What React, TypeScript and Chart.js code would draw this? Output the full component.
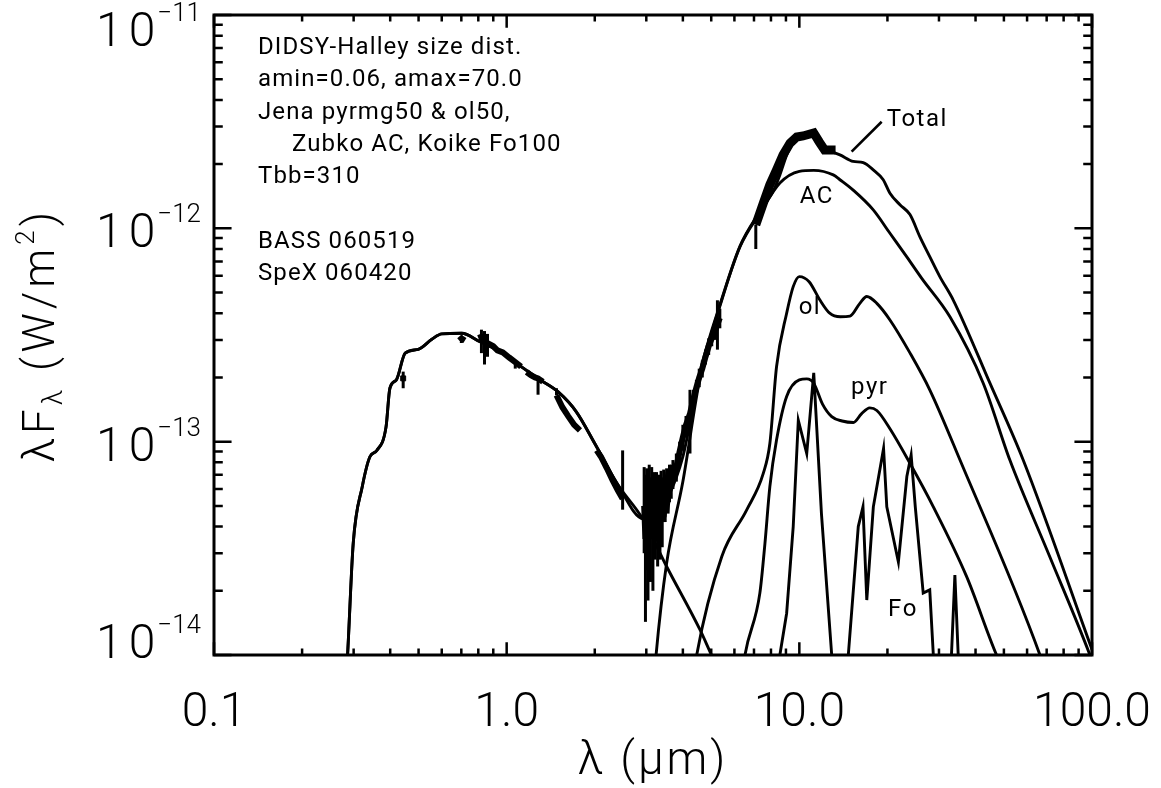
import React, { useEffect, useRef } from 'react';
import { Chart, registerables } from 'chart.js';

Chart.register(...registerables);

// ---------------- axes ----------------
const xMin = 0.1;
const xMax = 100;
const yMin = 1e-14;
const yMax = 1e-11;
const xDecades = [0.1, 1, 10, 100];
const xDecadeLabels = ['0.1', '1.0', '10.0', '100.0'];
const yDecades = [1e-14, 1e-13, 1e-12, 1e-11];
const yDecadeExponents = ['\u221214', '\u221213', '\u221212', '\u221211'];
const minorMultipliers = [2, 3, 4, 5, 6, 7, 8, 9];

// ---------------- model curves (λ in µm, λFλ in W/m²) ----------------
const stellarLam = [0.283, 0.286, 0.299, 0.321, 0.341, 0.36, 0.387, 0.399, 0.42, 0.45, 0.499, 0.555, 0.6, 0.702, 0.811, 0.974, 1.14, 1.3, 1.5, 1.73, 2.0, 2.38, 2.93, 3.52, 4.58, 5.01, 5.3];
const stellarFlux = [8e-15, 1e-14, 3.34e-14, 6.15e-14, 8.5e-14, 9.1e-14, 1.17e-13, 1.78e-13, 1.95e-13, 2.6e-13, 2.71e-13, 3.02e-13, 3.2e-13, 3.22e-13, 2.94e-13, 2.6e-13, 2.21e-13, 1.95e-13, 1.71e-13, 1.38e-13, 9.8e-14, 6.38e-14, 4.3e-14, 2.6e-14, 1.31e-14, 1e-14, 8.5e-15];

const totalLam = [0.283, 0.286, 0.299, 0.321, 0.341, 0.36, 0.387, 0.399, 0.42, 0.45, 0.499, 0.555, 0.6, 0.702, 0.811, 0.974, 1.14, 1.3, 1.5, 1.73, 2.0, 2.38, 2.93, 3.24, 3.52, 4.0, 4.58, 5.43, 6.27, 7.33, 8.15, 8.58, 9.05, 9.53, 10.0, 10.5, 11.2, 11.7, 12.2, 13.06, 13.76, 15.28, 16.53, 17.89, 19.35, 20.4, 22.07, 23.88, 25.8, 27.9, 30.2, 33.6, 44.8, 58.2, 100];
const totalFlux = [8e-15, 1e-14, 3.34e-14, 6.15e-14, 8.5e-14, 9.1e-14, 1.17e-13, 1.78e-13, 1.95e-13, 2.6e-13, 2.71e-13, 3.02e-13, 3.2e-13, 3.22e-13, 2.94e-13, 2.6e-13, 2.21e-13, 1.95e-13, 1.71e-13, 1.38e-13, 9.8e-14, 6.4e-14, 4.35e-14, 4.5e-14, 5.3e-14, 8.5e-14, 2.13e-13, 4.65e-13, 8.25e-13, 1.2e-12, 1.5e-12, 1.78e-12, 2.2e-12, 2.55e-12, 2.68e-12, 2.72e-12, 2.78e-12, 2.55e-12, 2.35e-12, 2.27e-12, 2.21e-12, 2.06e-12, 2.03e-12, 1.88e-12, 1.69e-12, 1.46e-12, 1.29e-12, 1.16e-12, 9.15e-13, 7.37e-13, 5.94e-13, 4.6e-13, 1.88e-13, 8.2e-14, 1.06e-14];

const acLam = [3.15, 3.24, 3.52, 4.0, 4.58, 5.43, 6.27, 7.33, 8.58, 10.0, 11.2, 13.06, 13.76, 15.28, 17.89, 20.4, 23.26, 26.2, 32.7, 42.5, 52.4, 71.8, 98.4, 100];
const acFlux = [6e-15, 1e-14, 2.69e-14, 6.5e-14, 2.0e-13, 4.6e-13, 8.2e-13, 1.18e-12, 1.63e-12, 1.85e-12, 1.87e-12, 1.78e-12, 1.69e-12, 1.51e-12, 1.22e-12, 9.48e-13, 7.37e-13, 5.83e-13, 3.85e-13, 1.88e-13, 8.2e-14, 2.88e-14, 1e-14, 9.4e-15];

const olLam = [4.3, 4.46, 5.43, 6.61, 7.53, 7.93, 8.36, 9.05, 9.53, 10.0, 10.8, 11.76, 12.7, 13.8, 14.9, 16.1, 17.0, 18.4, 20.4, 23.9, 27.9, 35.4, 66.4, 70];
const olFlux = [7e-15, 1e-14, 2.89e-14, 4.79e-14, 7.1e-14, 9.8e-14, 2.25e-13, 4.0e-13, 5.33e-13, 5.94e-13, 5.62e-13, 4.61e-13, 4.0e-13, 3.85e-13, 3.88e-13, 4.45e-13, 4.79e-13, 4.45e-13, 3.72e-13, 2.6e-13, 1.75e-13, 8.2e-14, 1e-14, 8e-15];

const pyrLam = [6.3, 6.52, 7.33, 7.63, 7.93, 8.36, 9.05, 10.0, 10.6, 11.2, 12.0, 12.9, 14.0, 15.3, 16.3, 17.4, 18.4, 20.4, 23.9, 28.7, 37.3, 47.2, 50];
const pyrFlux = [7e-15, 1e-14, 1.95e-14, 3.34e-14, 6.15e-14, 1.02e-13, 1.63e-13, 1.95e-13, 1.97e-13, 1.88e-13, 1.5e-13, 1.31e-13, 1.25e-13, 1.23e-13, 1.35e-13, 1.44e-13, 1.4e-13, 1.15e-13, 7.9e-14, 4.95e-14, 2.33e-14, 1e-14, 8.5e-15];

const foLam = [8.4, 8.58, 9.05, 9.53, 9.92, 10.6, 11.2, 11.9, 12.9, 13.3, 14.3, 14.7, 15.9, 16.5, 17.0, 17.9, 19.4, 19.9, 21.8, 23.3, 24.1, 24.9, 26.5, 27.9, 28.7, 29.5, 32.5, 33.1, 34.0, 34.9, 35.5];
const foFlux = [5e-15, 1e-14, 1.57e-14, 4.0e-14, 1.26e-13, 8.8e-14, 2.1e-13, 4.6e-14, 1e-14, 5e-15, 5e-15, 1e-14, 4.0e-14, 4.95e-14, 1.81e-14, 4.95e-14, 9.3e-14, 4.95e-14, 2.73e-14, 6.86e-14, 8.66e-14, 4.95e-14, 1.95e-14, 2.02e-14, 1e-14, 5e-15, 5e-15, 1e-14, 2.37e-14, 1e-14, 5e-15];

// ---------------- observations ----------------
// photometric point
const photLam = [0.443];
const photFlux = [1.98e-13];
const photLo = [1.78e-13];
const photHi = [2.13e-13];

// SpeX / near-IR spectrum (null = gap between segments)
const specLam = [0.69, 0.7, 0.72, 0.75, 0.8, 0.82, 0.84, 0.86, 0.88, 0.9, 0.93, 0.97, 1.02, 1.07, 1.12, 1.145, 1.17, 1.21, 1.25, 1.28, 1.33, 1.4, 1.48, 1.55, 1.62, 1.7, 1.78, 1.9, 2.03, 2.1, 2.2, 2.3, 2.4, 2.49, 2.7,
  2.95, 2.98, 3.01, 3.04, 3.07, 3.1, 3.13, 3.16, 3.19, 3.22, 3.25, 3.28, 3.31, 3.34, 3.37, 3.4, 3.44, 3.48, 3.52, 3.56, 3.6, 3.65, 3.7, 3.8, 3.9, 4.0, 4.1, 4.23, 4.35, 4.45, 4.55, 4.66, 4.78, 4.9, 5.02, 5.15, 5.25, 5.35];
const specFlux = [3.12e-13, 3.05e-13, 2.98e-13, null, 3.06e-13, 3.1e-13, 3.0e-13, 2.9e-13, 2.85e-13, 2.8e-13, 2.68e-13, 2.62e-13, 2.48e-13, 2.36e-13, 2.25e-13, null, 2.12e-13, 2.05e-13, 2.0e-13, 1.98e-13, 1.91e-13, null, 1.65e-13, 1.45e-13, 1.32e-13, 1.2e-13, 1.13e-13, null, 9.1e-14, 8.5e-14, 7.5e-14, 6.6e-14, 5.9e-14, 5.4e-14, null,
  5.0e-14, 3.5e-14, 4.5e-14, 3.2e-14, 5.0e-14, 4.0e-14, 5.5e-14, 3.6e-14, 4.8e-14, 4.0e-14, 5.2e-14, 4.2e-14, 5.0e-14, 4.4e-14, 5.4e-14, 4.6e-14, 5.5e-14, 5.2e-14, 6.0e-14, 5.6e-14, 6.4e-14, 6.5e-14, 7.0e-14, 7.6e-14, 9.0e-14, 1.05e-13, 1.2e-13, 1.35e-13, 1.6e-13, 1.8e-13, 2.0e-13, 2.2e-13, 2.5e-13, 2.8e-13, 3.05e-13, 3.3e-13, 3.55e-13, 3.8e-13];
const specLo = [null, 2.9e-13, null, null, null, 2.6e-13, 2.3e-13, 2.5e-13, null, null, null, null, null, 2.2e-13, null, null, null, null, null, 1.66e-13, null, null, null, null, null, null, null, null, null, null, null, null, null, 4.8e-14, null,
  3.0e-14, 1.43e-14, 2.5e-14, 1.8e-14, 3.0e-14, 2.2e-14, 3.5e-14, 2.0e-14, 3.0e-14, 2.8e-14, 3.4e-14, 2.6e-14, 3.2e-14, 2.8e-14, 3.8e-14, 3.2e-14, 4.2e-14, 4.2e-14, 4.8e-14, 4.6e-14, 5.2e-14, 5.4e-14, 6.0e-14, 6.5e-14, 8.0e-14, 9.1e-14, 1.05e-13, 8.8e-14, 1.45e-13, 1.65e-13, 1.8e-13, 2.0e-13, 2.3e-13, 2.55e-13, 2.8e-13, 3.0e-13, 2.7e-13, 3.4e-13];
const specHi = [null, null, null, null, null, 3.35e-13, 3.3e-13, 3.2e-13, null, null, null, null, null, null, null, null, null, null, null, null, null, null, 1.78e-13, null, null, null, null, null, null, null, null, null, null, 9.1e-14, null,
  7.6e-14, 7.0e-14, 7.5e-14, 6.0e-14, 7.8e-14, 6.8e-14, 7.6e-14, 6.2e-14, 7.2e-14, 6.6e-14, 7.2e-14, 6.4e-14, 7.0e-14, 6.6e-14, 7.3e-14, 6.8e-14, 7.4e-14, 7.0e-14, 7.5e-14, 7.2e-14, 7.8e-14, 7.8e-14, 8.2e-14, 8.8e-14, 1.0e-13, 1.2e-13, 1.32e-13, 1.75e-13, 1.75e-13, 1.95e-13, 2.2e-13, 2.4e-13, 2.7e-13, 3.05e-13, 3.3e-13, 3.6e-13, 4.6e-13, 4.2e-13];

// BASS mid-IR spectrum
const bassLam = [7.1, 7.53, 7.93, 8.36, 8.8, 9.3, 9.8, 10.3, 10.8, 11.2, 11.7, 12.2, 12.8, 13.3];
const bassFlux = [1.04e-12, 1.31e-12, 1.6e-12, 1.88e-12, 2.21e-12, 2.51e-12, 2.68e-12, 2.71e-12, 2.76e-12, 2.8e-12, 2.54e-12, 2.33e-12, 2.33e-12, 2.33e-12];
const bassLo = [8.0e-13, null, null, null, null, null, null, null, null, null, null, null, null, null];
const bassHi = [null, null, null, null, null, null, null, null, null, null, null, null, null, null];

// ---------------- annotations ----------------
const noteLines = ['DIDSY-Halley size dist.', 'amin=0.06, amax=70.0', 'Jena pyrmg50 & ol50,', 'Zubko AC, Koike Fo100', 'Tbb=310', '', 'BASS 060519', 'SpeX 060420'];
const noteIndent = [0, 0, 0, 1, 0, 0, 0, 0];
const curveLabelText = ['Total', 'AC', 'ol', 'pyr', 'Fo'];
const curveLabelLam = [25.3, 11.48, 10.87, 17.4, 22.6];
const curveLabelFlux = [3.22e-12, 1.4e-12, 4.24e-13, 1.79e-13, 1.62e-14];
const leaderLam = [15.09, 19.11];
const leaderFlux = [2.29e-12, 3.16e-12];

const FONT = 'Roboto, "DejaVu Sans", sans-serif';

const pts = (xs: number[], ys: (number | null)[]) => xs.map((x, i) => ({ x, y: ys[i] }));

const framePlugin = {
  id: 'frameTicks',
  afterDatasetsDraw(chart: any) {
    const { ctx, chartArea: a, scales } = chart;
    const xs = scales.x;
    const ys = scales.y;
    ctx.save();
    ctx.strokeStyle = '#000';
    ctx.lineWidth = 3;
    ctx.strokeRect(a.left, a.top, a.right - a.left, a.bottom - a.top);
    ctx.lineWidth = 2.5;
    const xMajor = 0.02 * (a.bottom - a.top);
    const yMajor = 0.02 * (a.right - a.left);
    for (let d = 0; d < xDecades.length; d++) {
      const vals = [xDecades[d], ...(d < xDecades.length - 1 ? minorMultipliers.map((m) => m * xDecades[d]) : [])];
      vals.forEach((v, k) => {
        const len = k === 0 ? xMajor : xMajor / 2;
        const px = xs.getPixelForValue(v);
        ctx.beginPath();
        ctx.moveTo(px, a.bottom);
        ctx.lineTo(px, a.bottom - len);
        ctx.moveTo(px, a.top);
        ctx.lineTo(px, a.top + len);
        ctx.stroke();
      });
    }
    for (let d = 0; d < yDecades.length; d++) {
      const vals = [yDecades[d], ...(d < yDecades.length - 1 ? minorMultipliers.map((m) => m * yDecades[d]) : [])];
      vals.forEach((v, k) => {
        const len = k === 0 ? yMajor : yMajor / 2;
        const py = ys.getPixelForValue(v);
        ctx.beginPath();
        ctx.moveTo(a.left, py);
        ctx.lineTo(a.left + len, py);
        ctx.moveTo(a.right, py);
        ctx.lineTo(a.right - len, py);
        ctx.stroke();
      });
    }
    ctx.restore();
  },
};

const errorBarPlugin = {
  id: 'errorBars',
  afterDatasetsDraw(chart: any) {
    const { ctx, chartArea: a, scales } = chart;
    ctx.save();
    ctx.beginPath();
    ctx.rect(a.left, a.top, a.right - a.left, a.bottom - a.top);
    ctx.clip();
    ctx.strokeStyle = '#000';
    chart.data.datasets.forEach((ds: any) => {
      if (!ds.errLo) return;
      ctx.lineWidth = ds.errWidth || 3;
      ds.data.forEach((p: any, i: number) => {
        if (p.y == null) return;
        const lo = ds.errLo[i] ?? p.y;
        const hi = ds.errHi[i] ?? p.y;
        if (lo === p.y && hi === p.y) return;
        const px = scales.x.getPixelForValue(p.x);
        ctx.beginPath();
        ctx.moveTo(px, scales.y.getPixelForValue(lo));
        ctx.lineTo(px, scales.y.getPixelForValue(hi));
        ctx.stroke();
      });
    });
    ctx.restore();
  },
};

const textPlugin = {
  id: 'texts',
  afterDraw(chart: any) {
    const { ctx, chartArea: a, scales } = chart;
    const xs = scales.x;
    const ys = scales.y;
    ctx.save();
    ctx.fillStyle = '#000';

    // y decade labels 10^n
    yDecades.forEach((v, i) => {
      let py = ys.getPixelForValue(v);
      if (i === 0) py -= 14;
      else if (i === yDecades.length - 1) py += 14;
      else py += 2;
      ctx.textBaseline = 'alphabetic';
      ctx.textAlign = 'right';
      ctx.font = `300 26px ${FONT}`;
      const expRight = 201;
      const expW = ctx.measureText(yDecadeExponents[i]).width;
      ctx.fillText(yDecadeExponents[i], expRight, py - 8);
      ctx.font = `300 48px ${FONT}`;
      (ctx as any).letterSpacing = '6px';
      ctx.fillText('10', expRight - expW - 2 + 6, py + 17);
      (ctx as any).letterSpacing = '0px';
    });

    // x axis title
    ctx.textAlign = 'center';
    ctx.textBaseline = 'alphabetic';
    ctx.font = `300 46px ${FONT}`;
    (ctx as any).letterSpacing = '3px';
    ctx.fillText('\u03bb (\u03bcm)', (a.left + a.right) / 2, 774);
    (ctx as any).letterSpacing = '0px';

    // y axis title (rotated) : λFλ (W/m²)
    const parts = [
      { t: '\u03bbF', size: 44, dy: 0 },
      { t: '\u03bb', size: 28, dy: 8 },
      { t: ' (W/m', size: 44, dy: 0 },
      { t: '2', size: 26, dy: -20 },
      { t: ')', size: 44, dy: 0 },
    ];
    ctx.save();
    ctx.translate(54, (a.top + a.bottom) / 2);
    ctx.rotate(-Math.PI / 2);
    (ctx as any).letterSpacing = '4px';
    let total = 0;
    parts.forEach((p) => {
      ctx.font = `300 ${p.size}px ${FONT}`;
      total += ctx.measureText(p.t).width;
    });
    let cx = -total / 2;
    ctx.textAlign = 'left';
    parts.forEach((p) => {
      ctx.font = `300 ${p.size}px ${FONT}`;
      ctx.fillText(p.t, cx, p.dy);
      cx += ctx.measureText(p.t).width;
    });
    (ctx as any).letterSpacing = '0px';
    ctx.restore();

    // notes in the upper-left
    ctx.font = `400 24px ${FONT}`;
    ctx.textAlign = 'left';
    ctx.textBaseline = 'alphabetic';
    (ctx as any).letterSpacing = '1.1px';
    noteLines.forEach((line, i) => {
      if (!line) return;
      ctx.fillText(line, a.left + 44 + noteIndent[i] * 34, a.top + 39 + i * 32.3);
    });

    // curve labels
    ctx.textAlign = 'center';
    ctx.textBaseline = 'middle';
    (ctx as any).letterSpacing = '1.5px';
    curveLabelText.forEach((t, i) => {
      ctx.fillText(t, xs.getPixelForValue(curveLabelLam[i]), ys.getPixelForValue(curveLabelFlux[i]));
    });
    (ctx as any).letterSpacing = '0px';
    ctx.restore();
  },
};

export default function App() {
  const ref = useRef<HTMLCanvasElement | null>(null);
  useEffect(() => {
    document.body.style.margin = '0';
    const canvas = ref.current!;
    const line = (label: string, xs: number[], ys: (number | null)[], width = 2.9, smooth = true) => ({
      label,
      data: pts(xs, ys),
      showLine: true,
      borderColor: '#000',
      backgroundColor: '#000',
      borderWidth: width,
      pointRadius: 0,
      cubicInterpolationMode: smooth ? 'monotone' : 'default',
      tension: 0,
      spanGaps: false,
    });
    const chart = new Chart(canvas, {
      type: 'scatter',
      data: {
        datasets: [
          line('Stellar', stellarLam, stellarFlux),
          line('Total', totalLam, totalFlux),
          line('AC', acLam, acFlux),
          line('ol', olLam, olFlux),
          line('pyr', pyrLam, pyrFlux),
          line('Fo', foLam, foFlux, 2.9, false),
          line('leader', leaderLam, leaderFlux, 2.6, false),
          {
            ...line('SpeX data', specLam, specFlux, 6, false),
            errLo: specLo,
            errHi: specHi,
            errWidth: 3,
          } as any,
          {
            ...line('BASS data', bassLam, bassFlux, 9, false),
            errLo: bassLo,
            errHi: bassHi,
            errWidth: 3,
          } as any,
          {
            label: 'Photometry',
            data: pts(photLam, photFlux),
            showLine: false,
            pointStyle: 'rect',
            pointRadius: 3.5,
            borderColor: '#000',
            backgroundColor: '#000',
            errLo: photLo,
            errHi: photHi,
            errWidth: 3,
          } as any,
        ],
      },
      options: {
        responsive: false,
        animation: false,
        events: [],
        devicePixelRatio: 1,
        layout: { padding: { top: 15, right: 69, left: 0, bottom: 0 } },
        plugins: { legend: { display: false }, tooltip: { enabled: false }, title: { display: false } },
        scales: {
          x: {
            type: 'logarithmic',
            min: xMin,
            max: xMax,
            grid: { display: false, drawTicks: false },
            border: { display: false },
            afterFit: (s: any) => {
              s.height = 133;
              s.paddingLeft = 0;
              s.paddingRight = 0;
            },
            afterBuildTicks: (s: any) => {
              s.ticks = xDecades.map((v) => ({ value: v }));
            },
            ticks: {
              autoSkip: false,
              maxRotation: 0,
              padding: 30,
              color: '#000',
              font: { family: FONT, size: 48, weight: '300' },
              callback: (v: any) => {
                const i = xDecades.findIndex((d) => Math.abs(Math.log10(d) - Math.log10(Number(v))) < 1e-6);
                return i >= 0 ? xDecadeLabels[i] : '';
              },
            },
          },
          y: {
            type: 'logarithmic',
            min: yMin,
            max: yMax,
            grid: { display: false, drawTicks: false },
            border: { display: false },
            ticks: { display: false },
            afterFit: (s: any) => {
              s.width = 214;
              s.paddingTop = 0;
              s.paddingBottom = 0;
            },
          },
        },
      } as any,
      plugins: [errorBarPlugin, framePlugin, textPlugin],
    });
    return () => chart.destroy();
  }, []);
  return (
    <div style={{ width: 1161, height: 788 }}>
      <canvas ref={ref} width={1161} height={788} style={{ display: 'block' }} />
    </div>
  );
}
